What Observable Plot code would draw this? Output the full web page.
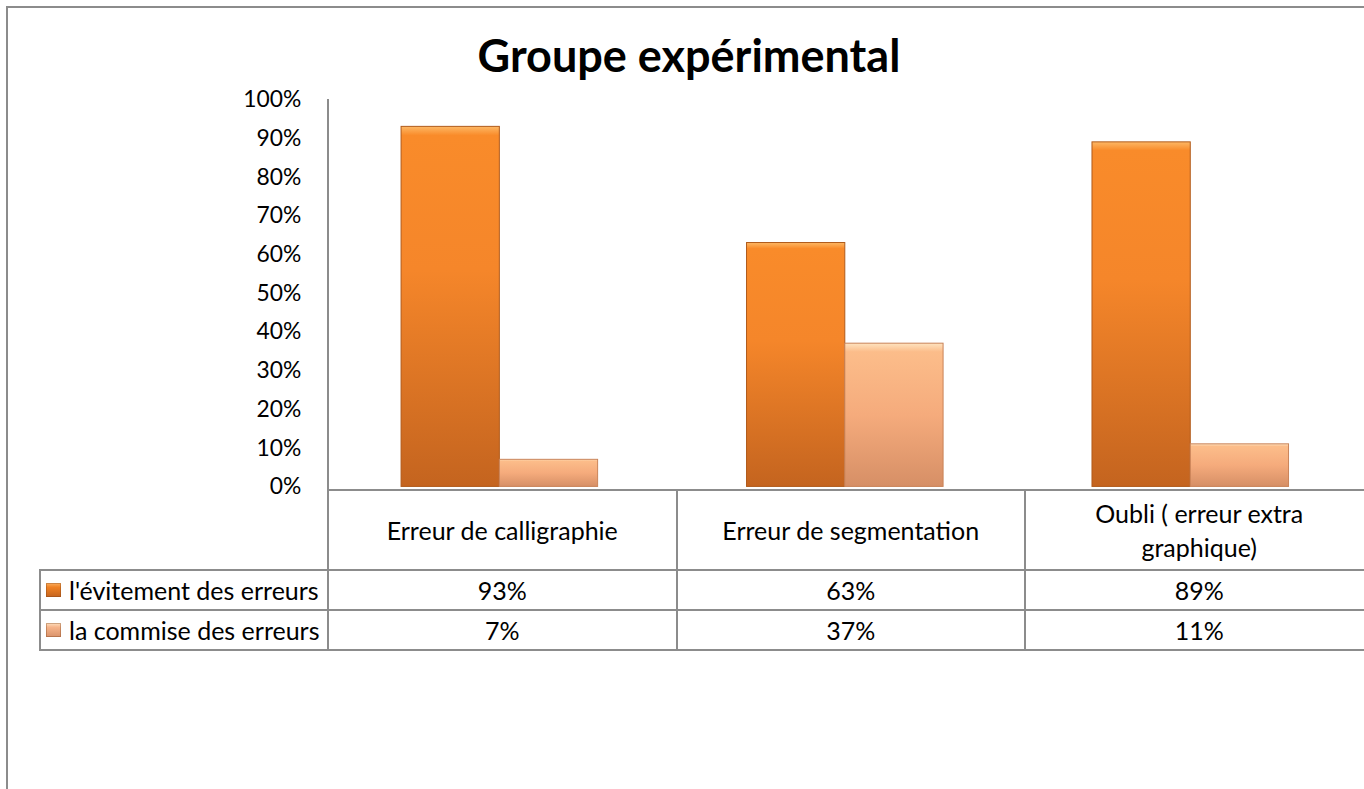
<!DOCTYPE html>
<html>
<head>
<meta charset="utf-8">
<script src="https://cdn.jsdelivr.net/npm/d3@7"></script>
<script src="https://cdn.jsdelivr.net/npm/@observablehq/plot@0.6"></script>
<style>
  html, body { margin: 0; padding: 0; background: #fff; }
  body { width: 1364px; height: 789px; overflow: hidden; position: relative; font-family: Lato, "Open Sans", sans-serif; color: #000; }
  .abs { position: absolute; }
  .cell { position: absolute; box-sizing: border-box; border: 2px solid #8c8c8c; display: flex; align-items: center; justify-content: center; text-align: center; font-size: 25px; }
</style>
</head>
<body>
<div class="abs" style="left:6px;top:6px;width:1400px;height:800px;border-left:2px solid #8c8c8c;border-top:2px solid #8c8c8c;"></div>
<div id="title" class="abs" style="left:0;width:1378px;top:28px;text-align:center;font-weight:bold;font-size:45px;line-height:54px;"></div>
<div id="chart" class="abs" style="left:0;top:0;"></div>
<div id="axisline" class="abs" style="left:327px;top:99px;width:2px;height:393px;background:#8c8c8c;"></div>
<div id="table"></div>
<script>
const title = "Groupe expérimental";
const categories = ["Erreur de calligraphie", "Erreur de segmentation", "Oubli ( erreur extra graphique)"];
const series = ["l'évitement des erreurs", "la commise des erreurs"];
const avoidValues = [0.93, 0.63, 0.89];
const commitValues = [0.07, 0.37, 0.11];
const valueLabels = [["93%", "63%", "89%"], ["7%", "37%", "11%"]];
const yTicks = [0, 0.1, 0.2, 0.3, 0.4, 0.5, 0.6, 0.7, 0.8, 0.9, 1];

const data = categories.flatMap((c, i) => [
  {category: c, series: series[0], value: avoidValues[i]},
  {category: c, series: series[1], value: commitValues[i]}
]);

document.getElementById("title").textContent = title;

const chart = Plot.plot({
  width: 1374,
  height: 520,
  marginLeft: 328,
  marginRight: 0,
  marginTop: 100,
  marginBottom: 30,
  style: {fontFamily: "Lato, 'Open Sans', sans-serif", fontSize: "23px", color: "#000", background: "transparent"},
  fx: {domain: categories, padding: 0, axis: null, label: null},
  x: {domain: series, paddingInner: 0, paddingOuter: 0.7425, axis: null, label: null},
  y: {domain: [0, 1], label: null},
  marks: [
    Plot.axisY({ticks: yTicks, tickFormat: d3.format(".0%"), tickSize: 0, tickPadding: 26, fontSize: 23, label: null}),
    Plot.barY(data.filter(d => d.series === series[0]), {fx: "category", x: "series", y: "value", fill: "url(#gradA)", stroke: "#b05a1a", strokeWidth: 1}),
    Plot.barY(data.filter(d => d.series === series[1]), {fx: "category", x: "series", y: "value", fill: "url(#gradB)", stroke: "#c98358", strokeWidth: 1})
  ]
});

const defs = d3.select(chart).insert("defs", ":first-child");
function grad(id, stops) {
  const g = defs.append("linearGradient").attr("id", id).attr("x1", 0).attr("y1", 0).attr("x2", 0).attr("y2", 1);
  stops.forEach(([o, c]) => g.append("stop").attr("offset", o).attr("stop-color", c));
}
grad("gradA", [[0, "#fdb865"], [0.025, "#f98b2a"], [0.4, "#f5862a"], [1, "#c4641f"]]);
grad("gradB", [[0, "#fee3c0"], [0.06, "#fcbd8a"], [0.5, "#f5ab7c"], [1, "#d68f66"]]);

document.getElementById("chart").appendChild(chart);

// data table
const table = document.getElementById("table");
const x0 = 328, colW = 348.5, legendX = 40;
const headerTop = 490, headerH = 80, rowH = 40;
function cell(left, top, w, h, html, extra) {
  const d = document.createElement("div");
  d.className = "cell";
  d.style.left = (left - 1) + "px";
  d.style.top = (top - 1) + "px";
  d.style.width = (w + 2) + "px";
  d.style.height = (h + 2) + "px";
  if (extra) Object.assign(d.style, extra);
  d.innerHTML = html;
  table.appendChild(d);
  return d;
}
categories.forEach((c, i) => {
  const label = c === "Oubli ( erreur extra graphique)" ? "Oubli ( erreur extra<br>graphique)" : c;
  cell(x0 + i * colW, headerTop, colW, headerH, `<div style="line-height:34px">${label}</div>`);
});
const iconGrad = [
  "linear-gradient(to bottom, #fbb062 0%, #f08224 30%, #c4641f 100%)",
  "linear-gradient(to bottom, #fde0c0 0%, #f6b48a 30%, #d9926a 100%)"
];
series.forEach((s, r) => {
  const top = headerTop + headerH + r * rowH;
  cell(legendX, top, x0 - legendX, rowH,
    `<span style="display:inline-block;width:15px;height:14px;background:${iconGrad[r]};box-shadow:inset 0 0 0 1px rgba(120,60,20,0.35);margin-right:8px;vertical-align:middle;flex:none;"></span><span style="white-space:nowrap">${s}</span>`,
    {justifyContent: "flex-start", paddingLeft: "5px"});
  valueLabels[r].forEach((v, i) => cell(x0 + i * colW, top, colW, rowH, v));
});
</script>
</body>
</html>
